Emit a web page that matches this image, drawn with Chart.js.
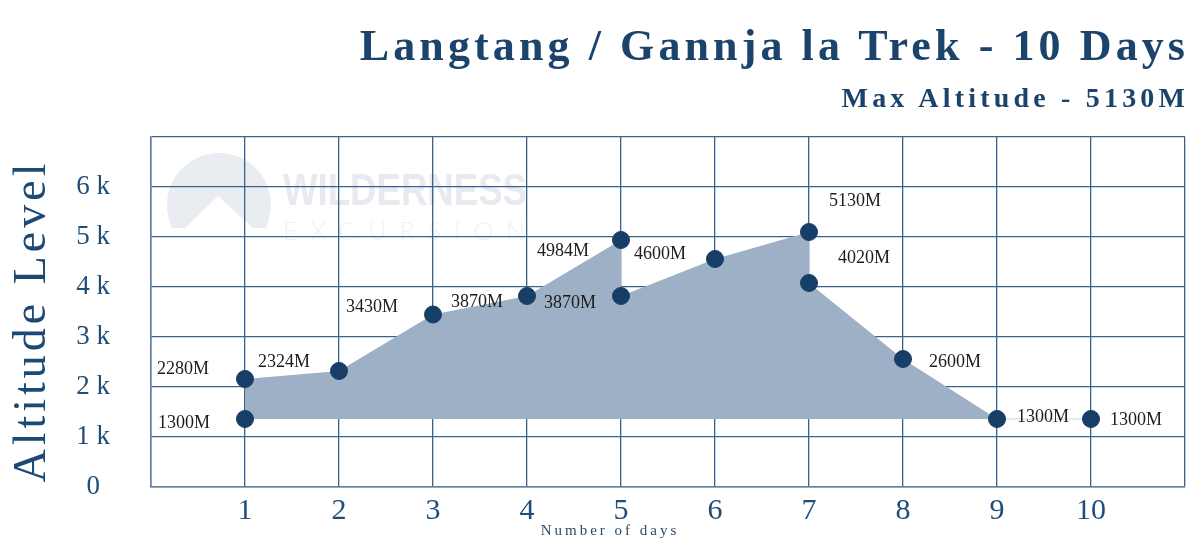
<!DOCTYPE html>
<html>
<head>
<meta charset="utf-8">
<title>Langtang / Gannja la Trek - 10 Days</title>
<script src="https://cdn.jsdelivr.net/npm/chart.js@4/dist/chart.umd.min.js"></script>
<style>
  html, body { margin: 0; padding: 0; background: #fff; }
  #wrap { position: relative; width: 1200px; height: 556px; }
  #chart { position: absolute; left: 0; top: 0; }
  .head { position: absolute; right: 15px; text-align: right; color: #1b436b;
          font-family: 'Liberation Serif', 'DejaVu Serif', serif; font-weight: bold; white-space: nowrap; }
  #title { top: 24px; font-size: 44px; line-height: 44px; letter-spacing: 4.1px; margin-right: -4.1px; }
  #subtitle { top: 84px; font-size: 28px; line-height: 28px; letter-spacing: 4.2px; margin-right: -4.2px; }
</style>
</head>
<body>
<div id="wrap">
  <canvas id="chart" width="1200" height="556"></canvas>
  <div class="head" id="title">Langtang / Gannja la Trek - 10 Days</div>
  <div class="head" id="subtitle">Max Altitude - 5130M</div>
</div>
<script>
'use strict';

/* Data */

var days = [1, 1, 2, 3, 4, 5, 5, 6, 7, 7, 8, 9, 10];
var altitudes = [2160, 1360, 2320, 3450, 3820, 4940, 3820, 4560, 5100, 4080, 2560, 1360, 1360];
var altitudeLabels = ['2280M', '1300M', '2324M', '3430M', '3870M', '4984M', '3870M',
                      '4600M', '5130M', '4020M', '2600M', '1300M', '1300M'];
// order the points are joined in for the shaded profile (day 1 to day 9)
var profileOrder = [1, 0, 2, 3, 4, 5, 6, 7, 8, 9, 10, 11];
var baseAltitude = altitudes[1];
var yTicks = ['0', '1 k', '2 k', '3 k', '4 k', '5 k', '6 k', ''];

var navy = '#173e67';
var gridColor = '#3a628d';
var serif = "'Liberation Serif', 'DejaVu Serif', serif";

var markerPoints = days.map(function(d, i) { return { x: d, y: altitudes[i] }; });
var profilePoints = profileOrder.map(function(i) { return { x: days[i], y: altitudes[i] }; });
var tailPoints = [11, 12].map(function(i) { return { x: days[i], y: altitudes[i] }; });

// label offsets from each marker (px), same order as altitudeLabels
var labelOffsets = [
  [-62, -10], [-61, 4], [-55, -9], [-61, -7], [-50, 6], [-58, 11], [-51, 7],
  [-55, -5], [46, -31], [55, -25], [52, 3], [46, -2], [45, 1]
];

var watermark = {
  id: 'watermark',
  beforeDraw: function(chart) {
    var ctx = chart.ctx;
    ctx.save();
    // logo
    ctx.beginPath();
    ctx.rect(160, 150, 120, 78);
    ctx.clip();
    ctx.fillStyle = '#e9ecf0';
    ctx.beginPath();
    ctx.arc(219, 205, 52, 0, Math.PI * 2);
    ctx.fill();
    ctx.fillStyle = '#ffffff';
    ctx.beginPath();
    ctx.moveTo(181, 232);
    ctx.lineTo(218, 196);
    ctx.lineTo(257, 232);
    ctx.closePath();
    ctx.fill();
    ctx.restore();

    ctx.save();
    ctx.fillStyle = '#e7eaef';
    ctx.font = "bold 44px 'Liberation Sans', sans-serif";
    ctx.textBaseline = 'alphabetic';
    ctx.textAlign = 'left';
    ctx.fillText('WILDERNESS', 283, 205, 244);
    ctx.fillStyle = '#eef1f4';
    ctx.font = "300 25px Lato, sans-serif";
    ctx.letterSpacing = '13px';
    ctx.fillText('EXCURSION', 283, 240);
    ctx.restore();
  }
};

var pointLabels = {
  id: 'pointLabels',
  afterDatasetsDraw: function(chart) {
    var ctx = chart.ctx;
    var meta = chart.getDatasetMeta(2);
    ctx.save();
    ctx.font = '18px ' + serif;
    ctx.fillStyle = '#1c1c1c';
    ctx.textAlign = 'center';
    ctx.textBaseline = 'middle';
    meta.data.forEach(function(el, i) {
      var off = labelOffsets[i];
      ctx.fillText(altitudeLabels[i], el.x + off[0], el.y + off[1]);
    });
    ctx.restore();
  },
  afterDraw: function(chart) {
    var ctx = chart.ctx;
    ctx.save();
    ctx.fillStyle = '#1d4a74';
    ctx.font = '46px ' + serif;
    ctx.letterSpacing = '4px';
    ctx.textAlign = 'center';
    ctx.textBaseline = 'middle';
    ctx.translate(33, 323);
    ctx.rotate(-Math.PI / 2);
    ctx.fillText('Altitude Level', 2, 0);
    ctx.restore();

    ctx.save();
    ctx.fillStyle = '#2a4a6b';
    ctx.font = '15px ' + serif;
    ctx.letterSpacing = '3px';
    ctx.textAlign = 'center';
    ctx.textBaseline = 'middle';
    ctx.fillText('Number of days', 610, 531);
    ctx.restore();
  }
};

var ctx = document.getElementById('chart').getContext('2d');
var chart = new Chart(ctx, {
  type: 'scatter',
  data: {
    datasets: [{
      type: 'line',
      data: profilePoints,
      backgroundColor: '#9eb0c6',
      borderWidth: 0,
      borderColor: 'rgba(0,0,0,0)',
      pointRadius: 0,
      tension: 0,
      fill: { value: baseAltitude },
      order: 3
    }, {
      type: 'line',
      data: tailPoints,
      borderColor: '#dde3ea',
      borderWidth: 1.5,
      pointRadius: 0,
      fill: false,
      order: 2
    }, {
      data: markerPoints,
      backgroundColor: navy,
      borderColor: navy,
      pointRadius: 8.5,
      pointHoverRadius: 8.5,
      order: 1
    }]
  },
  options: {
    responsive: false,
    animation: false,
    events: [],
    layout: { padding: { top: 137, right: 15, left: 0, bottom: 0 } },
    plugins: {
      legend: { display: false },
      tooltip: { enabled: false }
    },
    scales: {
      x: {
        type: 'linear',
        min: 0,
        max: 11,
        afterFit: function(scale) { scale.height = 69; },
        ticks: {
          stepSize: 1,
          padding: 6,
          color: '#1f4d78',
          font: { family: serif, size: 30 },
          callback: function(v) { return (v === 0 || v === 11) ? '' : String(v); }
        },
        grid: { color: gridColor, lineWidth: 1.3, drawTicks: false },
        border: { color: '#5f7ea2', width: 1.5 }
      },
      y: {
        min: 0,
        max: 7000,
        afterFit: function(scale) { scale.width = 151; },
        ticks: {
          stepSize: 1000,
          padding: 41,
          crossAlign: 'center',
          color: '#1f4d78',
          font: { family: serif, size: 27 },
          callback: function(v) { return yTicks[v / 1000]; }
        },
        grid: { color: gridColor, lineWidth: 1.3, drawTicks: false },
        border: { color: '#5f7ea2', width: 1.5 }
      }
    }
  },
  plugins: [watermark, pointLabels]
});
</script>
</body>
</html>
